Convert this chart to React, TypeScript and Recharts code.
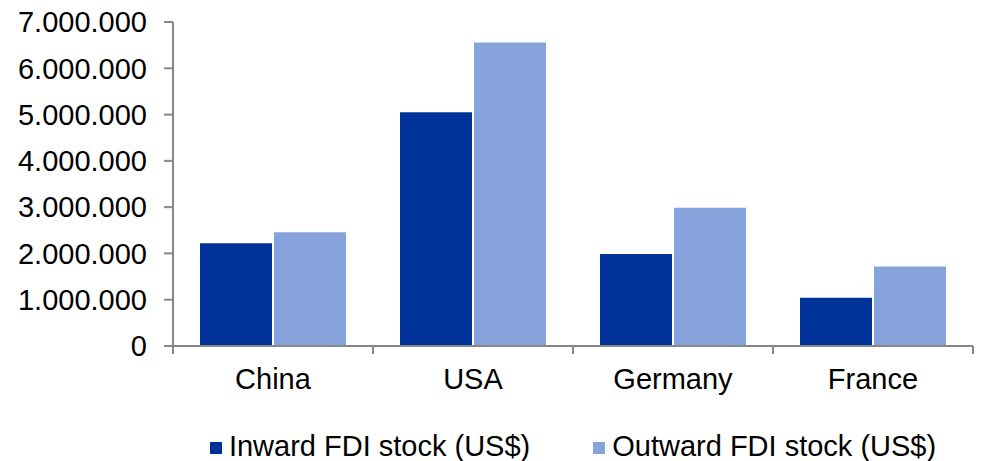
import React from 'react';
import { BarChart, Bar, XAxis, YAxis, Legend } from 'recharts';

// FDI stock by country, US$ (millions)
const countries = ['China', 'USA', 'Germany', 'France'];
const inwardStock = [2220000, 5050000, 1990000, 1040000];
const outwardStock = [2455000, 6555000, 2985000, 1720000];
const yTicks = [0, 1000000, 2000000, 3000000, 4000000, 5000000, 6000000, 7000000];
const edgeTicks = [0, 1, 2, 3, 4];

const seriesNames = {
  inward: 'Inward FDI stock (US$)',
  outward: 'Outward FDI stock (US$)',
};

// "slot" is each category's centre on a 0..4 numeric scale, used for the boundary tick axis
const data = countries.map((c, i) => ({
  country: c,
  slot: i + 0.5,
  inward: inwardStock[i],
  outward: outwardStock[i],
}));

const FONT = '"Liberation Sans", Arial, sans-serif';
const AXIS_GREY = '#878787';
const INWARD = '#003399';
const OUTWARD = '#87A3DB';

const formatDots = (v: number) => String(v).replace(/\B(?=(\d{3})+(?!\d))/g, '.');

// boundary axis only draws tick marks, no labels
const EmptyTick = () => <g />;

const LegendContent = (props: any) => {
  const { payload = [] } = props;
  return (
    <div
      style={{
        display: 'flex',
        justifyContent: 'center',
        alignItems: 'center',
        paddingTop: 25,
        height: 30,
        fontFamily: FONT,
        fontSize: 29,
        lineHeight: '29px',
        color: '#000',
      }}
    >
      {payload.map((p: any, i: number) => (
        <div
          key={p.value}
          style={{ display: 'flex', alignItems: 'center', marginLeft: i === 0 ? 0 : 63 }}
        >
          <span
            style={{
              display: 'inline-block',
              width: 12,
              height: 12,
              background: p.color,
              marginRight: 7,
              marginTop: 3,
            }}
          />
          <span>{p.value}</span>
        </div>
      ))}
    </div>
  );
};

export default function App() {
  return (
    <div style={{ position: 'absolute', left: 0, top: 0, width: 982, height: 461, background: '#fff' }}>
      <BarChart
        width={982}
        height={461}
        data={data}
        margin={{ top: 22, right: 9, bottom: 0, left: 0 }}
        barCategoryGap="13.5%"
        barGap={2}
      >
        <XAxis
          xAxisId="cat"
          dataKey="country"
          height={59}
          axisLine={false}
          tickLine={false}
          tickSize={0}
          tickMargin={21}
          tick={{ fill: '#000', fontSize: 29, fontFamily: FONT }}
        />
        <XAxis
          xAxisId="aEdge"
          dataKey="slot"
          type="number"
          domain={[0, 4]}
          ticks={edgeTicks}
          interval={0}
          height={1}
          tick={EmptyTick}
          tickSize={8}
          axisLine={{ stroke: AXIS_GREY, strokeWidth: 2 }}
          tickLine={{ stroke: AXIS_GREY, strokeWidth: 2 }}
          allowDataOverflow
        />
        <YAxis
          width={173}
          domain={[0, 7000000]}
          ticks={yTicks}
          interval={0}
          tickFormatter={formatDots}
          tickSize={9}
          tickMargin={17}
          axisLine={{ stroke: AXIS_GREY, strokeWidth: 2 }}
          tickLine={{ stroke: AXIS_GREY, strokeWidth: 2 }}
          tick={{ fill: '#000', fontSize: 29, fontFamily: FONT }}
        />
        <Legend verticalAlign="bottom" wrapperStyle={{ left: 173, width: 800 }} content={<LegendContent />} />
        <Bar xAxisId="cat" dataKey="inward" name={seriesNames.inward} fill={INWARD} isAnimationActive={false} />
        <Bar xAxisId="cat" dataKey="outward" name={seriesNames.outward} fill={OUTWARD} isAnimationActive={false} />
      </BarChart>
    </div>
  );
}
